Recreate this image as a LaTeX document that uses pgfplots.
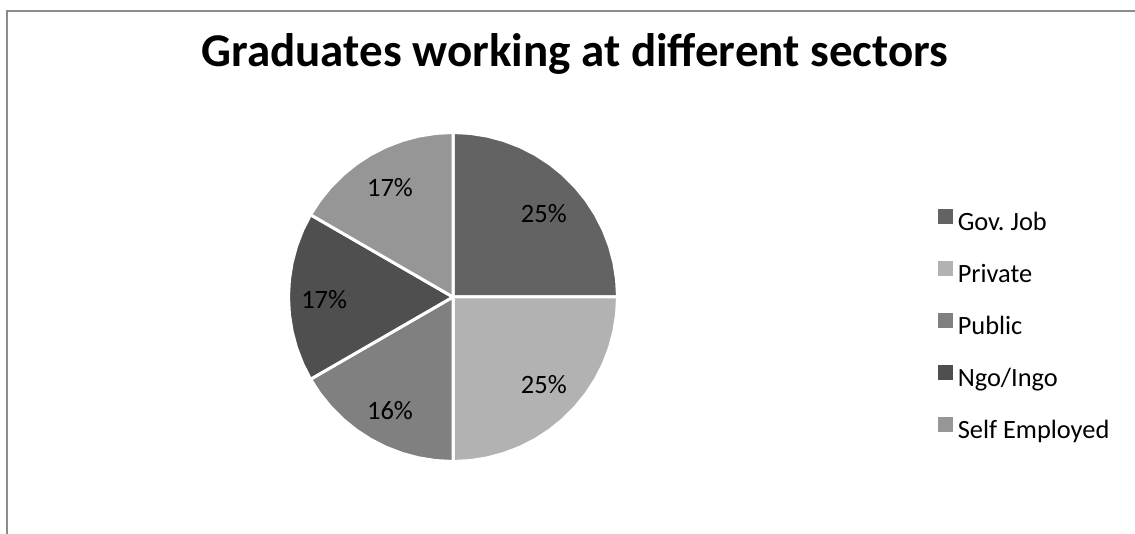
\documentclass[border=0pt]{standalone}
\usepackage{fontspec}
\setmainfont{Carlito}
\usepackage{pgfplots}
\pgfplotsset{compat=1.18}
\usepgfplotslibrary{polar}
\definecolor{govc}{HTML}{636363}
\definecolor{privc}{HTML}{B2B2B2}
\definecolor{pubc}{HTML}{808080}
\definecolor{ngoc}{HTML}{4F4F4F}
\definecolor{selfc}{HTML}{969696}
\definecolor{framec}{HTML}{8C8C8C}
\frenchspacing
% shares (%): Gov. Job 25, Private 25, Public 16.7, Ngo/Ingo 16.7, Self Employed 16.7
\begin{document}
\begin{tikzpicture}[x=1pt,y=1pt]
\useasboundingbox (0,0) rectangle (1135,533);
\fill[white] (0,0) rectangle (1135,533);
\draw[color=framec, line width=2pt] (7,-2) -- (7,522) -- (1137,522);
\node[anchor=base, inner sep=0pt, font=\fontsize{47}{56}\selectfont\bfseries] at (575,466) {Graduates working at different sectors};
\begin{axis}[at={(453pt,236pt)}, anchor=center, scale only axis,
  width=329pt, height=329pt, xmin=-1, xmax=1, ymin=-1, ymax=1,
  hide axis, clip=false,
  every axis plot/.append style={draw=white, line width=3pt, line join=round},
  legend image code/.code={\fill[#1,draw=none] (0pt,0.8pt) rectangle (14.6pt,15.4pt);},
  legend cell align=left,
  legend style={draw=none, fill=none, inner sep=0pt, at={(1.974,0.7666)}, anchor=north west,
    font=\fontsize{26.4}{30}\selectfont, row sep=24.5pt,
    nodes={inner sep=0pt, text height=18pt, text depth=6pt},
    /tikz/every odd column/.append style={column sep=5pt}},
]
\addplot[fill=govc, data cs=polar] coordinates {(0,0) (90,1) (84,1) (78,1) (72,1) (66,1) (60,1) (54,1) (48,1) (42,1) (36,1) (30,1) (24,1) (18,1) (12,1) (6,1) (0,1)} -- cycle;
\addlegendentry{Gov.\ Job}
\addplot[fill=privc, data cs=polar] coordinates {(0,0) (0,1) (-6,1) (-12,1) (-18,1) (-24,1) (-30,1) (-36,1) (-42,1) (-48,1) (-54,1) (-60,1) (-66,1) (-72,1) (-78,1) (-84,1) (-90,1)} -- cycle;
\addlegendentry{Private}
\addplot[fill=pubc, data cs=polar] coordinates {(0,0) (-90,1) (-96,1) (-102,1) (-108,1) (-114,1) (-120,1) (-126,1) (-132,1) (-138,1) (-144,1) (-150,1)} -- cycle;
\addlegendentry{Public}
\addplot[fill=ngoc, data cs=polar] coordinates {(0,0) (-150,1) (-156,1) (-162,1) (-168,1) (-174,1) (-180,1) (-186,1) (-192,1) (-198,1) (-204,1) (-210,1)} -- cycle;
\addlegendentry{Ngo/Ingo}
\addplot[fill=selfc, data cs=polar] coordinates {(0,0) (-210,1) (-216,1) (-222,1) (-228,1) (-234,1) (-240,1) (-246,1) (-252,1) (-258,1) (-264,1) (-270,1)} -- cycle;
\addlegendentry{Self Employed}
\node[anchor=base, inner sep=0pt, font=\fontsize{26.5}{30}\selectfont] at (axis cs:0.552,0.450) {25\%};
\node[anchor=base, inner sep=0pt, font=\fontsize{26.5}{30}\selectfont] at (axis cs:0.552,-0.584) {25\%};
\node[anchor=base, inner sep=0pt, font=\fontsize{26.5}{30}\selectfont] at (axis cs:-0.383,-0.742) {16\%};
\node[anchor=base, inner sep=0pt, font=\fontsize{26.5}{30}\selectfont] at (axis cs:-0.783,-0.067) {17\%};
\node[anchor=base, inner sep=0pt, font=\fontsize{26.5}{30}\selectfont] at (axis cs:-0.383,0.608) {17\%};
\end{axis}
\end{tikzpicture}
\end{document}
